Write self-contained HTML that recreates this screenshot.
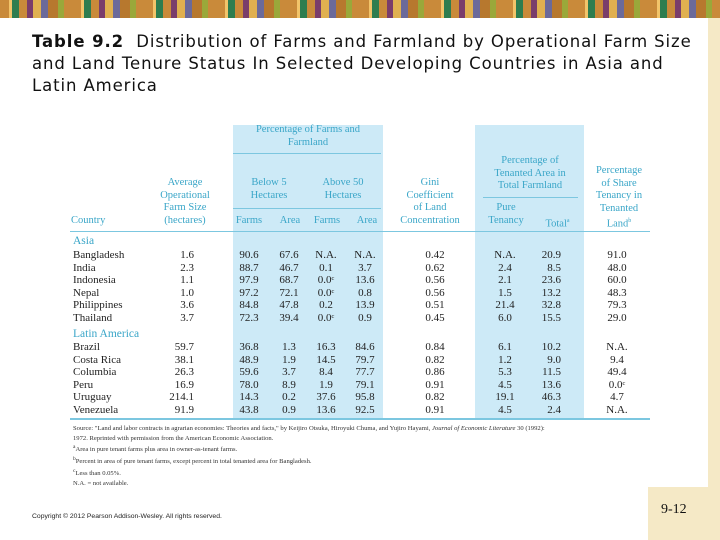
<!DOCTYPE html>
<html><head><meta charset="utf-8"><style>
body{margin:0;width:720px;height:540px;position:relative;overflow:hidden;background:#fff;font-family:"Liberation Serif",serif;}
.a{position:absolute;white-space:nowrap;}
.h{color:#3aa6c8;font-size:10.5px;text-align:center;line-height:12.5px;font-family:"Liberation Serif",serif;}
.c{font-size:11px;color:#222;line-height:12px;}
.f{font-size:6.6px;color:#333;line-height:9.6px;}
</style></head><body>
<div class="a" style="left:0;top:0;width:720px;height:18px;background:repeating-linear-gradient(90deg,#c98a3a 0 9px,#f2c46a 9px 12px,#2e7d4f 12px 19px,#c98a3a 19px 27px,#7a3d6b 27px 33px,#e0b050 33px 41px,#6b6a9a 41px 48px,#b7782e 48px 58px,#9aa83a 58px 64px,#c98a3a 64px 72px);"></div>
<div class="a" style="left:708px;top:18px;width:12px;height:470px;background:#f5e9c6;"></div>
<div class="a" style="left:648px;top:487px;width:72px;height:53px;background:#f5e9c6;"></div>
<div class="a" style="left:661px;top:502px;font-size:14px;color:#111;">9-12</div>
<div class="a" style="left:32px;top:31px;font-family:'DejaVu Sans',sans-serif;font-size:16.5px;letter-spacing:0.9px;line-height:22px;color:#111;"><b>Table 9.2</b>&nbsp; Distribution of Farms and Farmland by Operational Farm Size<br>and Land Tenure Status In Selected Developing Countries in Asia and<br>Latin America</div>

<div class="a" style="left:233px;top:125px;width:150px;height:293px;background:#cdeaf7;"></div>
<div class="a" style="left:475px;top:125px;width:109px;height:293px;background:#cdeaf7;"></div>
<div class="a" style="left:233px;top:153px;width:148px;height:1px;background:#7cc7e0;"></div>
<div class="a" style="left:233px;top:208px;width:148px;height:1px;background:#7cc7e0;"></div>
<div class="a" style="left:483px;top:197px;width:95px;height:1px;background:#7cc7e0;"></div>
<div class="a" style="left:70px;top:231px;width:580px;height:1px;background:#7cc7e0;"></div>
<div class="a" style="left:70px;top:418px;width:580px;height:2px;background:#7cc7e0;"></div>

<div class="a h" style="left:233px;top:124px;width:150px;">Percentage of Farms and<br>Farmland</div>
<div class="a h" style="left:145px;top:177px;width:80px;">Average<br>Operational<br>Farm Size<br>(hectares)</div>
<div class="a h" style="left:71px;top:215px;text-align:left;">Country</div>
<div class="a h" style="left:233px;top:177px;width:72px;">Below 5<br>Hectares</div>
<div class="a h" style="left:305px;top:177px;width:76px;">Above 50<br>Hectares</div>
<div class="a h" style="left:229px;top:215px;width:40px;">Farms</div>
<div class="a h" style="left:272px;top:215px;width:36px;">Area</div>
<div class="a h" style="left:307px;top:215px;width:40px;">Farms</div>
<div class="a h" style="left:349px;top:215px;width:36px;">Area</div>
<div class="a h" style="left:390px;top:177px;width:80px;">Gini<br>Coefficient<br>of Land<br>Concentration</div>
<div class="a h" style="left:479px;top:155px;width:102px;">Percentage of<br>Tenanted Area in<br>Total Farmland</div>
<div class="a h" style="left:480px;top:202px;width:52px;">Pure<br>Tenancy</div>
<div class="a h" style="left:535px;top:215px;width:45px;">Total<sup style="font-size:6px">a</sup></div>
<div class="a h" style="left:583px;top:165px;width:72px;">Percentage<br>of Share<br>Tenancy in<br>Tenanted<br>Land<sup style="font-size:6px">b</sup></div>

<div class="a h" style="left:73px;top:235px;text-align:left;font-size:11.5px;">Asia</div>
<div class="a h" style="left:73px;top:328px;text-align:left;font-size:11.5px;">Latin America</div>

<div id="rows"></div>

<div class="a f" style="left:73px;top:424px;">Source: "Land and labor contracts in agrarian economies: Theories and facts," by Keijiro Otsuka, Hiroyuki Chuma, and Yujiro Hayami, <i>Journal of Economic Literature</i> 30 (1992):<br>1972. Reprinted with permission from the American Economic Association.<br><sup>a</sup>Area in pure tenant farms plus area in owner-as-tenant farms.<br><sup>b</sup>Percent in area of pure tenant farms, except percent in total tenanted area for Bangladesh.<br><sup>c</sup>Less than 0.05%.<br>N.A. = not available.</div>
<div class="a" style="left:32px;top:513px;font-family:'Liberation Sans',sans-serif;font-size:6.8px;color:#222;">Copyright © 2012 Pearson Addison-Wesley. All rights reserved.</div>

<script>
const countries=["Bangladesh","India","Indonesia","Nepal","Philippines","Thailand","Brazil","Costa Rica","Columbia","Peru","Uruguay","Venezuela"];
const avgSize=["1.6","2.3","1.1","1.0","3.6","3.7","59.7","38.1","26.3","16.9","214.1","91.9"];
const below5Farms=["90.6","88.7","97.9","97.2","84.8","72.3","36.8","48.9","59.6","78.0","14.3","43.8"];
const below5Area=["67.6","46.7","68.7","72.1","47.8","39.4","1.3","1.9","3.7","8.9","0.2","0.9"];
const above50Farms=["N.A.","0.1","0.0ᶜ","0.0ᶜ","0.2","0.0ᶜ","16.3","14.5","8.4","1.9","37.6","13.6"];
const above50Area=["N.A.","3.7","13.6","0.8","13.9","0.9","84.6","79.7","77.7","79.1","95.8","92.5"];
const gini=["0.42","0.62","0.56","0.56","0.51","0.45","0.84","0.82","0.86","0.91","0.82","0.91"];
const pureTenancy=["N.A.","2.4","2.1","1.5","21.4","6.0","6.1","1.2","5.3","4.5","19.1","4.5"];
const totalTenancy=["20.9","8.5","23.6","13.2","32.8","15.5","10.2","9.0","11.5","13.6","46.3","2.4"];
const shareTenancy=["91.0","48.0","60.0","48.3","79.3","29.0","N.A.","9.4","49.4","0.0ᶜ","4.7","N.A."];
const cols=[[countries,73,"left"],[avgSize,194,"right"],[below5Farms,249,"center"],[below5Area,289,"center"],[above50Farms,326,"center"],[above50Area,365,"center"],[gini,435,"center"],[pureTenancy,505,"center"],[totalTenancy,561,"right"],[shareTenancy,617,"center"]];
const names=["country","avg-size","below5-farms","below5-area","above50-farms","above50-area","gini","pure-tenancy","total-tenancy","share-tenancy"];
const root=document.getElementById("rows");
countries.forEach((c,i)=>{
  const y=(i<6?249:341)+(i<6?i:i-6)*12.6;
  cols.forEach((col,j)=>{
    const d=document.createElement("div");
    d.className="a c";
    
    
    d.textContent=col[0][i];
    d.style.top=y+"px";
    if(col[2]==="left"){d.style.left=col[1]+"px";}
    else if(col[2]==="right"){d.style.left=(col[1]-60)+"px";d.style.width="60px";d.style.textAlign="right";}
    else{d.style.left=(col[1]-30)+"px";d.style.width="60px";d.style.textAlign="center";}
    root.appendChild(d);
  });
});
</script>
</body></html>
